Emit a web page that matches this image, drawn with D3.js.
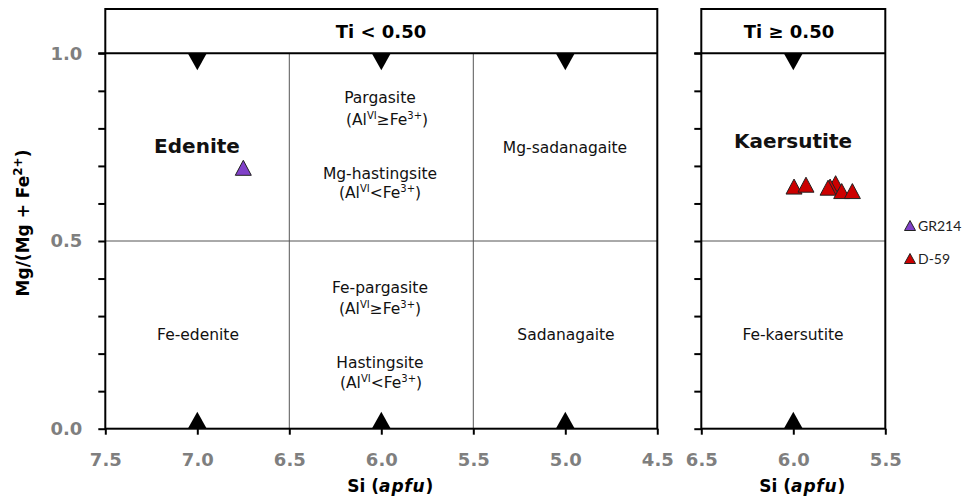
<!DOCTYPE html>
<html>
<head>
<meta charset="utf-8">
<script src="https://cdn.jsdelivr.net/npm/d3@7"></script>
<style>
  html, body { margin: 0; padding: 0; background: #fff; }
  svg { display: block; }
</style>
</head>
<body>
<svg id="chart" width="965" height="499"></svg>
<script>
// Amphibole classification: Mg/(Mg+Fe2+) vs Si (apfu)
const yTicks = [0, 0.1, 0.2, 0.3, 0.4, 0.5, 0.6, 0.7, 0.8, 0.9, 1.0];
const yLabelled = [0, 0.5, 1.0];
const xTicksLow = [7.5, 7.0, 6.5, 6.0, 5.5, 5.0, 4.5];
const xTicksHigh = [6.5, 6.0, 5.5];
const boundariesLow = [6.5, 5.5];
const endMembersLow = [7.0, 6.0, 5.0];
const endMembersHigh = [6.0];

// GR214 sample
const gr214Si = [6.75];
const gr214Mg = [0.695];
// D-59 sample
const d59Si = [5.996, 5.931, 5.770, 5.800, 5.811, 5.737, 5.679];
const d59Mg = [0.645, 0.650, 0.654, 0.645, 0.642, 0.633, 0.633];

const svg = d3.select("#chart");
const FONT = "'DejaVu Sans', Verdana, sans-serif";

const y = d3.scaleLinear().domain([0, 1]).range([428.7, 53.3]);
const xLow = d3.scaleLinear().domain([7.5, 4.5]).range([105.3, 657.3]);
const xHigh = d3.scaleLinear().domain([6.5, 5.5]).range([701.3, 885.3]);
const headerTop = 9;

function panel(x, ticks, labelY, boundaries, ends, title, titleX) {
  const [x0, x1] = x.range();
  const g = svg.append("g");

  // thin internal divisions
  boundaries.forEach(b => {
    g.append("line").attr("x1", x(b)).attr("x2", x(b))
      .attr("y1", y(1)).attr("y2", y(0))
      .attr("stroke", "#555").attr("stroke-width", 1);
  });
  g.append("line").attr("x1", x0).attr("x2", x1)
    .attr("y1", y(0.5)).attr("y2", y(0.5))
    .attr("stroke", "#555").attr("stroke-width", 1);

  // y axis
  const ya = d3.axisLeft(y).tickValues(yTicks).tickSize(7).tickPadding(16)
    .tickFormat(d => (labelY && yLabelled.some(v => Math.abs(v - d) < 1e-9)) ? d3.format(".1f")(d) : "");
  const yg = g.append("g").attr("transform", `translate(${x0},0)`).call(ya);
  yg.select(".domain").remove();
  yg.selectAll("line").attr("stroke", "#000").attr("stroke-width", 2);
  yg.selectAll("text").attr("font-family", FONT).attr("font-weight", "bold")
    .attr("font-size", 18).attr("fill", "#7f7f7f");

  // x axis
  const xa = d3.axisBottom(x).tickValues(ticks).tickSize(6).tickPadding(19)
    .tickFormat(d3.format(".1f"));
  const xg = g.append("g").attr("transform", `translate(0,${y(0)})`).call(xa);
  xg.select(".domain").remove();
  xg.selectAll("line").attr("stroke", "#000").attr("stroke-width", 2);
  xg.selectAll("text").attr("font-family", FONT).attr("font-weight", "bold")
    .attr("font-size", 18).attr("fill", "#7f7f7f");

  // frame and header divider
  g.append("rect").attr("x", x0).attr("y", headerTop)
    .attr("width", x1 - x0).attr("height", y(0) - headerTop)
    .attr("fill", "none").attr("stroke", "#000").attr("stroke-width", 2);
  g.append("line").attr("x1", x0 - 7).attr("x2", x1)
    .attr("y1", y(1)).attr("y2", y(1))
    .attr("stroke", "#000").attr("stroke-width", 2);

  g.append("text").attr("x", titleX).attr("y", 37.5)
    .attr("text-anchor", "middle").attr("font-family", FONT)
    .attr("font-weight", "bold").attr("font-size", 18).text(title);

  // end-member markers on the top and bottom edges
  const w = 19, h = 17;
  ends.forEach(s => {
    const cx = x(s);
    g.append("path")
      .attr("d", `M${cx - w / 2},${y(1)}L${cx + w / 2},${y(1)}L${cx},${y(1) + h}Z`)
      .attr("fill", "#000");
    g.append("path")
      .attr("d", `M${cx - w / 2},${y(0)}L${cx + w / 2},${y(0)}L${cx},${y(0) - h}Z`)
      .attr("fill", "#000");
  });

  // x axis title
  const t = g.append("text").attr("x", (x0 + x1) / 2 + 9).attr("y", 492)
    .attr("text-anchor", "middle").attr("font-family", FONT)
    .attr("font-weight", "bold").attr("font-size", 17);
  t.append("tspan").text("Si (");
  t.append("tspan").attr("font-style", "italic").attr("letter-spacing", 0.8).text("apfu");
  t.append("tspan").text(")");
  return g;
}

panel(xLow, xTicksLow, true, boundariesLow, endMembersLow, "Ti < 0.50", 381);
panel(xHigh, xTicksHigh, false, [], endMembersHigh, "Ti \u2265 0.50", 789);

// y axis title
const yt = svg.append("text")
  .attr("transform", "translate(29,223) rotate(-90)")
  .attr("text-anchor", "middle").attr("font-family", FONT)
  .attr("font-weight", "bold").attr("font-size", 17);
yt.append("tspan").text("Mg/(Mg + Fe");
yt.append("tspan").attr("font-size", 12).attr("dy", -7).text("2+");
yt.append("tspan").attr("dy", 7).text(")");

// field names
function plain(x, yb, txt, size, bold) {
  svg.append("text").attr("x", x).attr("y", yb).attr("text-anchor", "middle")
    .attr("font-family", FONT).attr("font-size", size)
    .attr("font-weight", bold ? "bold" : "normal").attr("fill", "#111").text(txt);
}
function ratio(x, yb, rel) {
  const t = svg.append("text").attr("x", x).attr("y", yb).attr("text-anchor", "middle")
    .attr("font-family", FONT).attr("font-size", 15.5).attr("fill", "#111");
  t.append("tspan").text("(Al");
  t.append("tspan").attr("font-size", 10).attr("dy", -6).text("VI");
  t.append("tspan").attr("dy", 6).text(rel + "Fe");
  t.append("tspan").attr("font-size", 10).attr("dy", -6).text("3+");
  t.append("tspan").attr("dy", 6).text(")");
}

plain(197, 152.7, "Edenite", 20, true);
plain(793, 148.3, "Kaersutite", 20, true);
plain(380, 103.3, "Pargasite", 15.5);
ratio(387, 125, "\u2265");
plain(380, 179.3, "Mg-hastingsite", 15.5);
ratio(380, 198.3, "<");
plain(565, 153.3, "Mg-sadanagaite", 15.5);
plain(198, 339.5, "Fe-edenite", 15.5);
plain(380, 293.3, "Fe-pargasite", 15.5);
ratio(380, 314, "\u2265");
plain(380, 368.3, "Hastingsite", 15.5);
ratio(381, 388.3, "<");
plain(566, 339.5, "Sadanagaite", 15.5);
plain(793, 339.5, "Fe-kaersutite", 15.5);

// sample points
function tri(cx, cy, w, h) {
  return `M${cx},${cy - h / 2}L${cx + w / 2},${cy + h / 2}L${cx - w / 2},${cy + h / 2}Z`;
}
svg.append("g").selectAll("path").data(d3.zip(gr214Si, gr214Mg)).join("path")
  .attr("d", d => tri(xLow(d[0]), y(d[1]), 16, 15))
  .attr("fill", "#8040c8").attr("stroke", "#222").attr("stroke-width", 1);
svg.append("g").selectAll("path").data(d3.zip(d59Si, d59Mg)).join("path")
  .attr("d", d => tri(xHigh(d[0]), y(d[1]), 16, 15))
  .attr("fill", "#cc0000").attr("stroke", "#222").attr("stroke-width", 1);

// legend
const legend = [
  { name: "GR214", color: "#8040c8" },
  { name: "D-59", color: "#cc0000" }
];
const lg = svg.append("g");
legend.forEach((d, i) => {
  const cy = 225.5 + i * 33;
  lg.append("path").attr("d", tri(910, cy, 11, 10))
    .attr("fill", d.color).attr("stroke", "#222").attr("stroke-width", 1);
  lg.append("text").attr("x", 918).attr("y", cy + 5)
    .attr("font-family", "Lato, 'Open Sans', sans-serif").attr("font-size", 14)
    .attr("fill", "#222").text(d.name);
});
</script>
</body>
</html>
